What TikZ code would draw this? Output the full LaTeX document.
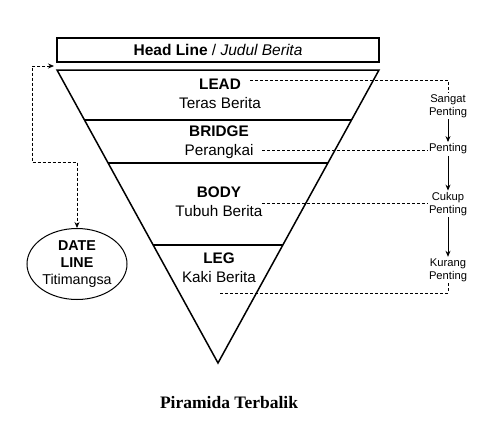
\documentclass[tikz,border=0pt]{standalone}
\usepackage{fontspec}
\setmainfont{Liberation Sans}
\newfontfamily\captionserif{Liberation Serif}
\usetikzlibrary{shapes.geometric, arrows, arrows.meta, positioning, calc}

\begin{document}
\begin{tikzpicture}[x=1pt, y=-1pt]
    \tikzstyle{headbox} = [rectangle, draw=black, line width=1.5pt, minimum width=322pt, minimum height=24pt, inner sep=0pt, font=\fontsize{15.5}{18}\selectfont]
    \tikzstyle{layer} = [align=center, font=\fontsize{15.3}{19}\selectfont, inner sep=1pt]
    \tikzstyle{rank} = [align=center, font=\fontsize{11.2}{13}\selectfont, inner sep=1.5pt]
    \tikzstyle{dateball} = [ellipse, draw=black, line width=1pt, minimum width=100pt, minimum height=71pt, align=center, font=\fontsize{14.3}{17}\selectfont, inner sep=0pt]
    \tikzstyle{arrow} = [line width=0.9pt,->,>={Stealth[length=6pt,width=5pt]}]
    \tikzstyle{guide} = [line width=0.8pt, dash pattern=on 3pt off 2pt]
    \tikzstyle{guidearrow} = [guide, <->, >={Stealth[length=6pt,width=5pt]}]

    \useasboundingbox (0,0) rectangle (491,421);

    \node[headbox] (headline) at (218,50) {\textbf{Head Line} / \textit{Judul Berita}};

    % inverted pyramid
    \coordinate (topleft) at (57,70);
    \coordinate (topright) at (379,70);
    \coordinate (apex) at (218,363);
    \draw[line width=1.5pt, line join=miter] (topleft) -- (topright) -- (apex) -- cycle;
    \draw[line width=1.5pt] ($(topleft)!0.171!(apex)$) -- ($(topright)!0.171!(apex)$);
    \draw[line width=1.5pt] ($(topleft)!0.317!(apex)$) -- ($(topright)!0.317!(apex)$);
    \draw[line width=1.5pt] ($(topleft)!0.597!(apex)$) -- ($(topright)!0.597!(apex)$);

    \node[layer] (lead) at (220,94) {\textbf{LEAD}\\Teras Berita};
    \node[layer] (bridge) at (219,142) {\textbf{BRIDGE}\\Perangkai};
    \node[layer] (body) at (219,202) {\textbf{BODY}\\Tubuh Berita};
    \node[layer] (leg) at (219,268) {\textbf{LEG}\\Kaki Berita};

    % importance scale
    \node[rank] (sangat) at (448,106) {Sangat\\Penting};
    \node[rank] (penting) at (448,149) {Penting};
    \node[rank] (cukup) at (448,204) {Cukup\\Penting};
    \node[rank] (kurang) at (448,270) {Kurang\\Penting};

    \draw[arrow] (sangat) -- (penting);
    \draw[arrow] (penting) -- (cukup);
    \draw[arrow] (cukup) -- (kurang);

    \coordinate (leadtip) at (250,80);
    \coordinate (bridgetip) at (262,150);
    \coordinate (bodytip) at (262,203);
    \coordinate (legtip) at (220,293);
    \draw[guide] (leadtip) -| (sangat.north);
    \draw[guide] (bridgetip) -- (bridgetip -| penting.west);
    \draw[guide] (bodytip) -- (bodytip -| cukup.west);
    \draw[guide] (legtip) -| (kurang.south);

    % date line
    \node[dateball] (dateline) at (77,264) {\textbf{DATE}\\\textbf{LINE}\\Titimangsa};
    \coordinate (gap) at (54,66);
    \draw[guidearrow] (gap) -- ++(-22,0) |- ([yshift=66pt]dateline.north) -- (dateline.north);

    \node[font=\fontsize{17.5}{20}\selectfont] (caption) at (229,403) {\captionserif\bfseries Piramida Terbalik};
\end{tikzpicture}
\end{document}
